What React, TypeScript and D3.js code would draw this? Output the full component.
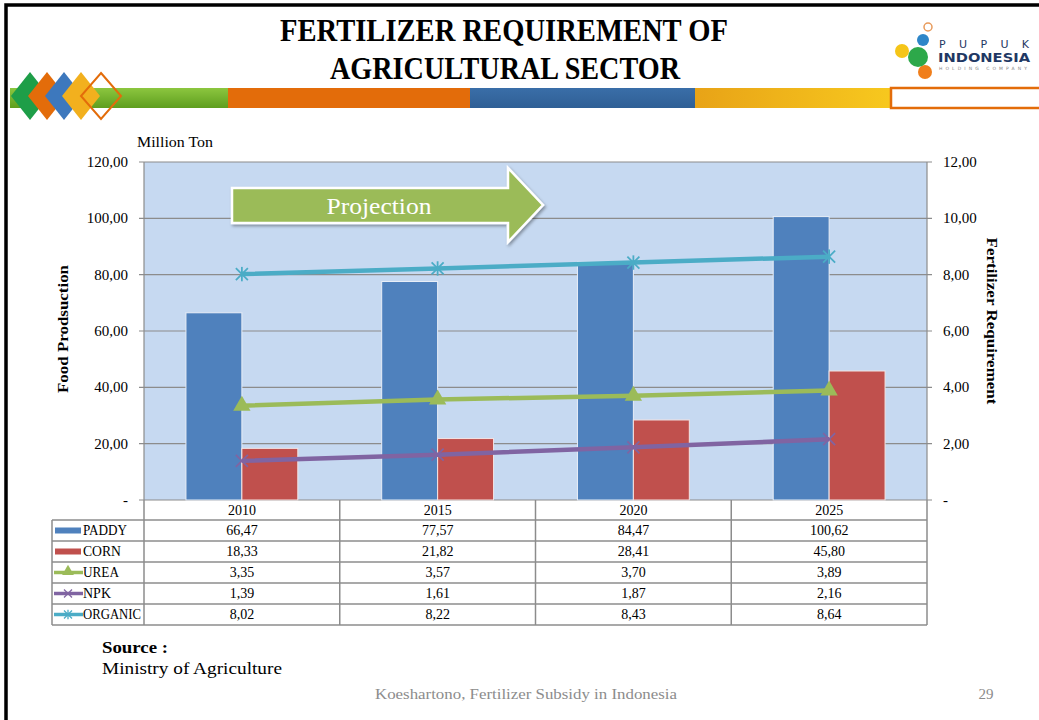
import React from 'react';
import * as d3 from 'd3';

const years = ['2010', '2015', '2020', '2025'];
const paddy = [66.47, 77.57, 84.47, 100.62];
const corn = [18.33, 21.82, 28.41, 45.8];
const urea = [3.35, 3.57, 3.7, 3.89];
const npk = [1.39, 1.61, 1.87, 2.16];
const organic = [8.02, 8.22, 8.43, 8.64];
const leftTicks = [0, 20, 40, 60, 80, 100, 120];
const rightTicks = [0, 2, 4, 6, 8, 10, 12];

const C = {
  paddy: '#4F81BD',
  corn: '#C0504D',
  urea: '#9BBB59',
  npk: '#8064A2',
  organic: '#4BACC6',
  plotBg: '#C6D9F1',
  grid: '#8C8C8C',
};

const FONT = '"Liberation Serif", "DejaVu Serif", serif';

const L = 144, R = 927, T = 162, B = 500;

const x = d3.scaleBand<string>().domain(years).range([L, R]).paddingInner(0).paddingOuter(0);
const inner = d3.scaleBand<string>().domain(['PADDY', 'CORN']).range([0, x.bandwidth()]).paddingInner(0).paddingOuter(0.75);
const yL = d3.scaleLinear().domain([0, 120]).range([B, T]);
const yR = d3.scaleLinear().domain([0, 12]).range([B, T]);
const fmt = (d: number) => (d === 0 ? '-' : d3.format('.2f')(d).replace('.', ','));

const lineGen = d3.line<number>().x((_, i) => x(years[i])! + x.bandwidth() / 2).y((d) => yR(d));

function Triangle({ cx, cy, s, color }: { cx: number; cy: number; s: number; color: string }) {
  const p = d3.symbol().type(d3.symbolTriangle).size(s)();
  return <path d={p!} transform={`translate(${cx},${cy})`} fill={color} />;
}
function XMark({ cx, cy, r, color, w = 1.5 }: { cx: number; cy: number; r: number; color: string; w?: number }) {
  return (
    <g stroke={color} strokeWidth={w}>
      <line x1={cx - r} y1={cy - r} x2={cx + r} y2={cy + r} />
      <line x1={cx - r} y1={cy + r} x2={cx + r} y2={cy - r} />
    </g>
  );
}
function Star({ cx, cy, r, color, w = 1.5 }: { cx: number; cy: number; r: number; color: string; w?: number }) {
  return (
    <g stroke={color} strokeWidth={w}>
      <line x1={cx - r} y1={cy - r} x2={cx + r} y2={cy + r} />
      <line x1={cx - r} y1={cy + r} x2={cx + r} y2={cy - r} />
      <line x1={cx} y1={cy - r * 1.2} x2={cx} y2={cy + r * 1.2} />
    </g>
  );
}

const rowsTable = [
  { name: 'PADDY', vals: paddy, kind: 'bar', color: C.paddy, w: 44 },
  { name: 'CORN', vals: corn, kind: 'bar', color: C.corn, w: 38 },
  { name: 'UREA', vals: urea, kind: 'tri', color: C.urea, w: 36 },
  { name: 'NPK', vals: npk, kind: 'x', color: C.npk, w: 28 },
  { name: 'ORGANIC', vals: organic, kind: 'star', color: C.organic, w: 58 },
];

export default function App() {
  const cx = (i: number) => x(years[i])! + x.bandwidth() / 2;
  const rowTop = 520;
  const rowH = 21;
  const tblLeft = 52;
  return (
    <svg width={1039} height={720} style={{ position: 'fixed', left: 0, top: 0, background: '#fff' }} fontFamily={FONT}>
      <defs>
        <linearGradient id="gGreen" x1="0" y1="0" x2="0" y2="1">
          <stop offset="0" stopColor="#8CC63F" />
          <stop offset="1" stopColor="#5E9E1E" />
        </linearGradient>
        <linearGradient id="gGold" x1="0" y1="0" x2="1" y2="0">
          <stop offset="0" stopColor="#E8A317" />
          <stop offset="1" stopColor="#F7C81E" />
        </linearGradient>
        <linearGradient id="gBlue" x1="0" y1="0" x2="0" y2="1">
          <stop offset="0" stopColor="#3A6EA8" />
          <stop offset="1" stopColor="#2F5F95" />
        </linearGradient>
        <filter id="shadow" x="-10%" y="-20%" width="130%" height="150%">
          <feDropShadow dx="1.5" dy="2" stdDeviation="1.5" floodColor="#000" floodOpacity="0.35" />
        </filter>
      </defs>

      {/* slide frame */}
      <rect x={0} y={0} width={1039} height={720} fill="#fff" />
      <rect x={6} y={5} width={1040} height={740} fill="none" stroke="#000" strokeWidth={3.5} />

      {/* Title */}
      <text x={504} y={41} textAnchor="middle" fontSize={32} fontWeight="bold" textLength={448} lengthAdjust="spacingAndGlyphs">FERTILIZER REQUIREMENT OF</text>
      <text x={505} y={79} textAnchor="middle" fontSize={32} fontWeight="bold" textLength={350} lengthAdjust="spacingAndGlyphs">AGRICULTURAL SECTOR</text>

      {/* colour band */}
      <rect x={10} y={88} width={218} height={20} fill="url(#gGreen)" />
      <rect x={228} y={88} width={242} height={20} fill="#E36C0A" />
      <rect x={470} y={88} width={225} height={20} fill="url(#gBlue)" />
      <rect x={695} y={88} width={195} height={20} fill="url(#gGold)" />
      <rect x={891} y={88} width={160} height={20} fill="#fff" stroke="#E36C0A" strokeWidth={2.5} />

      {/* diamonds */}
      {[
        { c: 30, col: '#1E9E48' },
        { c: 47, col: '#E36C0A' },
        { c: 64, col: '#3D78BD' },
        { c: 81, col: '#F2B01E' },
      ].map((d, i) => (
        <path key={i} d={`M${d.c},72 L${d.c + 19},96 L${d.c},120 L${d.c - 19},96 Z`} fill={d.col} />
      ))}
      <path d={`M101,73 L121,96 L101,119 L81,96 Z`} fill="none" stroke="#E36C0A" strokeWidth={2} />

      {/* logo */}
      <circle cx={928} cy={27} r={4} fill="none" stroke="#E89A5A" strokeWidth={1.5} />
      <circle cx={923} cy={40} r={6} fill="#2E86C8" />
      <circle cx={902} cy={51} r={7} fill="#F5C518" />
      <circle cx={925} cy={72} r={7} fill="#F07E1B" />
      <circle cx={918} cy={57} r={10} fill="#2DA84A" />
      <text x={939} y={48} fontFamily="'DejaVu Sans', sans-serif" fontSize={11} fill="#1F3864" textLength={90} lengthAdjust="spacing">PUPUK</text>
      <text x={938} y={62} fontFamily="'DejaVu Sans', sans-serif" fontWeight="bold" fontSize={12.5} fill="#1F3864" textLength={92} lengthAdjust="spacingAndGlyphs">INDONESIA</text>
      <text x={939} y={70} fontFamily="'DejaVu Sans', sans-serif" fontSize={4.5} fill="#888" textLength={88} lengthAdjust="spacing">HOLDING COMPANY</text>

      {/* plot area */}
      <rect x={L} y={T} width={R - L} height={B - T} fill={C.plotBg} />
      {leftTicks.map((t) => (
        <line key={'g' + t} x1={L - 5} x2={R + 5} y1={yL(t)} y2={yL(t)} stroke={C.grid} strokeWidth={1.2} />
      ))}
      <line x1={L} x2={L} y1={T} y2={B} stroke={C.grid} strokeWidth={1.2} />
      <line x1={R} x2={R} y1={T} y2={B} stroke={C.grid} strokeWidth={1.2} />

      {/* bars */}
      {years.map((yr, i) => (
        <g key={yr}>
          <rect x={x(yr)! + inner('PADDY')!} y={yL(paddy[i])} width={inner.bandwidth()} height={B - yL(paddy[i])} fill={C.paddy} stroke="#E8EEF7" strokeWidth={1} />
          <rect x={x(yr)! + inner('CORN')!} y={yL(corn[i])} width={inner.bandwidth()} height={B - yL(corn[i])} fill={C.corn} stroke="#F2E4E4" strokeWidth={1} />
        </g>
      ))}

      {/* lines */}
      <path d={lineGen(organic)!} fill="none" stroke={C.organic} strokeWidth={4.5} />
      {organic.map((v, i) => <Star key={'o' + i} cx={cx(i)} cy={yR(v)} r={6} color={C.organic} w={1.8} />)}
      <path d={lineGen(urea)!} fill="none" stroke={C.urea} strokeWidth={4.5} />
      {urea.map((v, i) => <Triangle key={'u' + i} cx={cx(i)} cy={yR(v)} s={130} color={C.urea} />)}
      <path d={lineGen(npk)!} fill="none" stroke={C.npk} strokeWidth={4.5} />
      {npk.map((v, i) => <XMark key={'n' + i} cx={cx(i)} cy={yR(v)} r={6} color={C.npk} w={1.8} />)}

      {/* axis labels */}
      {leftTicks.map((t) => (
        <text key={'l' + t} x={128} y={yL(t) + 5} textAnchor="end" fontSize={15}>{fmt(t)}</text>
      ))}
      {rightTicks.map((t) => (
        <text key={'r' + t} x={943} y={yR(t) + 5} fontSize={15}>{fmt(t)}</text>
      ))}
      <text x={137} y={147} fontSize={15} textLength={76} lengthAdjust="spacingAndGlyphs">Million Ton</text>
      <text transform={`translate(68,329) rotate(-90)`} textAnchor="middle" fontSize={15} fontWeight="bold" textLength={128} lengthAdjust="spacingAndGlyphs">Food Prodsuction</text>
      <text transform={`translate(987,321) rotate(90)`} textAnchor="middle" fontSize={15} fontWeight="bold" textLength={167} lengthAdjust="spacingAndGlyphs">Fertilizer Requirement</text>

      {/* projection arrow */}
      <g filter="url(#shadow)">
        <path d="M232,188 L508,188 L508,168 L543,205 L508,242 L508,223 L232,223 Z" fill={C.urea} stroke="#fff" strokeWidth={2.5} strokeLinejoin="miter" />
      </g>
      <text x={379} y={214} textAnchor="middle" fontSize={23} fill="#fff" textLength={105} lengthAdjust="spacingAndGlyphs">Projection</text>

      {/* data table */}
      <g stroke="#8C8C8C" strokeWidth={1.5} fill="none">
        <line x1={L} x2={L} y1={B} y2={rowTop} />
        {years.map((yr) => (
          <line key={'v' + yr} x1={x(yr)! + x.bandwidth()} x2={x(yr)! + x.bandwidth()} y1={B} y2={rowTop + rowH * 5} />
        ))}
        <line x1={tblLeft} x2={tblLeft} y1={rowTop} y2={rowTop + rowH * 5} />
        <line x1={L} x2={L} y1={rowTop} y2={rowTop + rowH * 5} />
        {d3.range(6).map((k) => (
          <line key={'h' + k} x1={tblLeft} x2={R} y1={rowTop + k * rowH} y2={rowTop + k * rowH} />
        ))}
      </g>
      {years.map((yr) => (
        <text key={'yh' + yr} x={x(yr)! + x.bandwidth() / 2} y={B + 15} textAnchor="middle" fontSize={14}>{yr}</text>
      ))}
      {rowsTable.map((r, k) => {
        const yc = rowTop + k * rowH + rowH / 2;
        return (
          <g key={r.name}>
            {r.kind === 'bar' && <rect x={55} y={yc - 3} width={26} height={6} fill={r.color} />}
            {r.kind !== 'bar' && <line x1={54} x2={83} y1={yc} y2={yc} stroke={r.color} strokeWidth={3.5} />}
            {r.kind === 'tri' && <Triangle cx={68} cy={yc - 1} s={60} color={r.color} />}
            {r.kind === 'x' && <XMark cx={68} cy={yc} r={4} color={r.color} w={1.3} />}
            {r.kind === 'star' && <Star cx={68} cy={yc} r={4} color={r.color} w={1.3} />}
            <text x={83} y={yc + 4.5} fontSize={14} textLength={r.w} lengthAdjust="spacingAndGlyphs">{r.name}</text>
            {r.vals.map((v, i) => (
              <text key={i} x={cx(i)} y={yc + 4.5} textAnchor="middle" fontSize={14}>{fmt(v)}</text>
            ))}
          </g>
        );
      })}

      {/* footer */}
      <text x={102} y={653} fontSize={17} fontWeight="bold" textLength={66} lengthAdjust="spacingAndGlyphs">Source :</text>
      <text x={102} y={674} fontSize={17} textLength={180} lengthAdjust="spacingAndGlyphs">Ministry of Agriculture</text>
      <text x={526} y={699} textAnchor="middle" fontSize={15} fill="#8C8C8C" textLength={302} lengthAdjust="spacingAndGlyphs">Koeshartono, Fertilizer Subsidy in Indonesia</text>
      <text x={986} y={699} textAnchor="middle" fontSize={15} fill="#8C8C8C">29</text>
    </svg>
  );
}
